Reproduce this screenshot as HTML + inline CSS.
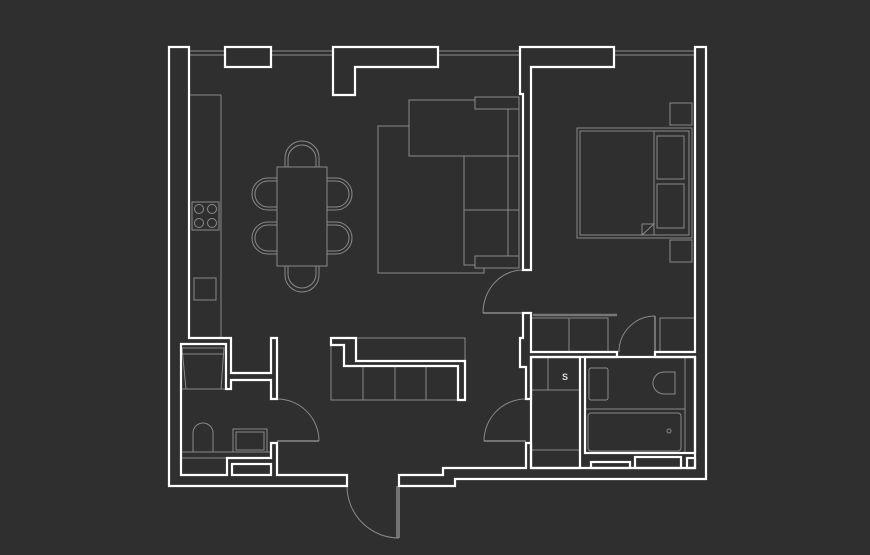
<!DOCTYPE html>
<html><head><meta charset="utf-8"><style>
html,body{margin:0;padding:0;background:#2f2f2f;}
svg{display:block}
</style></head><body>
<svg width="870" height="555" viewBox="0 0 870 555" xmlns="http://www.w3.org/2000/svg">
<rect width="870" height="555" fill="#2f2f2f"/>
<!-- windows -->
<g stroke="#8c8c8c" stroke-width="1" fill="none">
<line x1="189" y1="51" x2="225" y2="51"/><line x1="189" y1="55" x2="225" y2="55"/>
<line x1="271" y1="51" x2="333" y2="51"/><line x1="271" y1="55" x2="333" y2="55"/>
<line x1="438" y1="51" x2="520" y2="51"/><line x1="438" y1="55" x2="520" y2="55"/>
<line x1="614" y1="51" x2="695" y2="51"/><line x1="614" y1="55" x2="695" y2="55"/>
</g>
<!-- furniture -->
<g stroke="#8a8a8a" stroke-width="1" fill="none">
<rect x="189" y="95" width="32" height="243"/>
<rect x="192" y="202" width="27" height="28"/>
<circle cx="199" cy="209" r="4.5"/><circle cx="212" cy="209" r="4.5"/><circle cx="199" cy="223" r="4.5"/><circle cx="212" cy="223" r="4.5"/>
<rect x="194" y="278" width="22" height="22"/>
<rect x="277" y="167" width="50" height="99"/>
<path d="M285 167 V158 A17 17 0 0 1 319 158 V167"/><path d="M288 167 V159 A14 14 0 0 1 316 159 V167"/>
<path d="M285 266 V275 A17 17 0 0 0 319 275 V266"/><path d="M288 266 V274 A14 14 0 0 0 316 274 V266"/>
<path d="M277 178 H268 A16 16 0 0 0 268 210 H277"/><path d="M277 181 H268 A13 13 0 0 0 268 207 H277"/>
<path d="M277 222 H268 A16 16 0 0 0 268 254 H277"/><path d="M277 225 H268 A13 13 0 0 0 268 251 H277"/>
<path d="M327 178 H336 A16 16 0 0 1 336 210 H327"/><path d="M327 181 H336 A13 13 0 0 1 336 207 H327"/>
<path d="M327 222 H336 A16 16 0 0 1 336 254 H327"/><path d="M327 225 H336 A13 13 0 0 1 336 251 H327"/>
<rect x="378" y="126" width="106" height="147"/>
<rect x="409" y="100" width="110" height="56" fill="#2f2f2f"/>
<rect x="475" y="97" width="44" height="12" fill="#2f2f2f"/>
<rect x="464" y="156" width="55" height="109" fill="#2f2f2f"/>
<line x1="508" y1="109" x2="508" y2="258"/><line x1="464" y1="210" x2="519" y2="210"/>
<rect x="475" y="256" width="44" height="12" fill="#2f2f2f"/>
<rect x="577" y="128" width="115" height="110"/>
<rect x="580" y="131" width="109" height="104"/>
<line x1="654" y1="131" x2="654" y2="235"/>
<rect x="657" y="136" width="27" height="43"/><rect x="657" y="184" width="27" height="44"/>
<path d="M642 235 V224 H654 Z"/>
<rect x="670" y="103" width="22" height="22"/><rect x="670" y="240" width="22" height="22"/>
<rect x="531" y="318" width="77" height="34"/><line x1="569" y1="318" x2="569" y2="352"/>
<line x1="533" y1="315" x2="617" y2="315" stroke-width="2.5" stroke="#777"/>
<rect x="660" y="318" width="35" height="34"/>
<rect x="331" y="338" width="134" height="62"/>
<line x1="363" y1="366" x2="363" y2="400"/><line x1="395" y1="366" x2="395" y2="400"/><line x1="426" y1="366" x2="426" y2="400"/>
<line x1="531" y1="390" x2="580" y2="390"/><line x1="548" y1="357" x2="548" y2="390"/>
<line x1="531" y1="450" x2="580" y2="450"/>
<rect x="589" y="368" width="19" height="32" rx="2"/>
<path d="M675 372 H664 A11 11 0 0 0 664 394 H675 Z"/>
<line x1="685" y1="357" x2="685" y2="453"/>
<line x1="585" y1="409" x2="685" y2="409"/>
<rect x="588" y="413" width="93" height="38" rx="3"/>
<circle cx="669" cy="431" r="2"/>
<path d="M182 348 H224 L221 389 H186 Z"/><line x1="182" y1="354" x2="224" y2="354"/>
<line x1="180" y1="389" x2="226" y2="389"/>
<path d="M193 452 V433 A10 10 0 0 1 213 433 V452"/>
<rect x="233" y="429" width="34" height="23"/><rect x="236" y="432" width="28" height="18"/>
<line x1="180" y1="452" x2="277" y2="452"/><line x1="180" y1="458" x2="227" y2="458"/>
<path d="M483 313 A40 43 0 0 1 523 270"/>
<path d="M484 441 A42 42 0 0 1 526 399"/>
<path d="M619 352 A36 36 0 0 1 655 316"/>
<path d="M277 399 A42 42 0 0 1 319 441"/>
<path d="M347 486 A52 52 0 0 0 399 538"/>
</g>
<g stroke="#8a8a8a" stroke-width="1.5" fill="none">
<line x1="483" y1="313" x2="523" y2="313"/>
<line x1="484" y1="441" x2="526" y2="441"/>
<line x1="655" y1="316" x2="655" y2="352"/>
<line x1="277" y1="441" x2="319" y2="441"/>
<line x1="397" y1="486" x2="397" y2="538"/><line x1="399" y1="486" x2="399" y2="538"/>
</g>
<text x="565" y="380" fill="#ddd" font-family="Liberation Sans, sans-serif" font-size="9" font-weight="bold" text-anchor="middle">S</text>
<!-- walls -->
<g stroke="#ffffff" stroke-width="2.2" fill="none" stroke-linejoin="miter">
<path d="M189 338 V47 H169 V486 H347 V475 H277 V443 H271 V458 H227 V475 H181 V344 H226 V389 H231 V380 H271 V399 H277 V338 H271 V373 H231 V338 Z" fill="#2f2f2f"/>
<rect x="232" y="464" width="39" height="11"/>
<rect x="225" y="47" width="46" height="20"/>
<path d="M333 47 H438 V67 H355 V95 H333 Z"/>
<path d="M520 47 H614 V67 H531 V270 H523 V94 H520 Z"/>
<path d="M331 338 H356 V361 H465 V400 H458 V366 H344 V345 H331 Z"/>
<path d="M695 47 H706 V479 H455 V486 H399 V475 H443 V468 H526 V443 H531 V468 H695 V357 H655 V352 H695 Z"/>
<path d="M523 313 H531 V352 H617 V357 H531 V399 H526 V367 H520 V338 H523 Z"/>
<rect x="531" y="357" width="49" height="111"/>
<rect x="585" y="357" width="110" height="96"/>
<rect x="591" y="462" width="39" height="6"/>
<rect x="635" y="457" width="46" height="11"/>
<rect x="687" y="458" width="8" height="10"/>
</g>
</svg>
</body></html>
